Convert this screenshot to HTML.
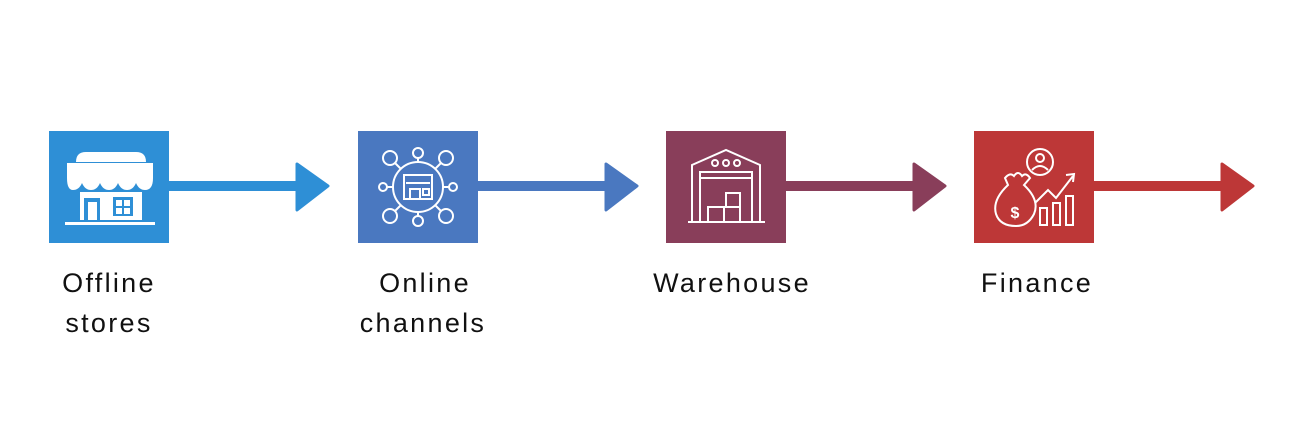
<!DOCTYPE html>
<html><head><style>
html,body{margin:0;padding:0;background:#fff;}
svg{display:block;}
text{font-family:"Liberation Sans",sans-serif;font-size:27px;fill:#111;text-anchor:middle;letter-spacing:2.3px;}
</style></head><body>
<svg width="1290" height="430" viewBox="0 0 1290 430">
<g id="a1">
<rect x="49" y="131" width="120" height="112" fill="#2e8fd6"/>
<rect x="165" y="181" width="138" height="10" fill="#2e8fd6"/>
<path d="M297 164 L328 186 L297 210 Z" fill="#2e8fd6" stroke="#2e8fd6" stroke-width="3" stroke-linejoin="round"/>
<g fill="#fff">
<path d="M76 162 Q76 152 86 152 H136 Q146 152 146 162 Z"/>
<path d="M67 163 H153 V178 Q153 190 145 190 Q139 190 136 183 Q133 190 127 190 Q121 190 118 183 Q115 190 109 190 Q103 190 100 183 Q97 190 91 190 Q85 190 82 183 Q79 190 73 190 Q67 190 67 178 Z"/>
<rect x="80" y="192" width="62" height="28"/>
<rect x="65" y="222" width="90" height="3"/>
</g>
<rect x="84" y="198" width="16" height="22" fill="#2e8fd6"/>
<rect x="88" y="202" width="9" height="18" fill="#fff"/>
<rect x="113" y="197" width="20" height="19" fill="#2e8fd6"/>
<rect x="116" y="200" width="6" height="6" fill="#fff"/><rect x="124" y="200" width="6" height="6" fill="#fff"/>
<rect x="116" y="208" width="6" height="6" fill="#fff"/><rect x="124" y="208" width="6" height="6" fill="#fff"/>
</g>
<g>
<rect x="358" y="131" width="120" height="112" fill="#4a78c0"/>
<rect x="474" y="181" width="138" height="10" fill="#4a78c0"/>
<path d="M606 164 L637 186 L606 210 Z" fill="#4a78c0" stroke="#4a78c0" stroke-width="3" stroke-linejoin="round"/>
<g fill="none" stroke="#fff" stroke-width="2">
<circle cx="418" cy="187" r="25"/>
<circle cx="390" cy="158" r="7"/><circle cx="418" cy="153" r="5"/><circle cx="446" cy="158" r="7"/>
<circle cx="383" cy="187" r="4"/><circle cx="453" cy="187" r="4"/>
<circle cx="390" cy="216" r="7"/><circle cx="418" cy="221" r="5"/><circle cx="446" cy="216" r="7"/>
<path d="M395 163 L401 169 M418 158 V162 M441 163 L435 169 M387 187 H393 M443 187 H449 M395 211 L401 205 M418 216 V212 M441 211 L435 205"/>
<rect x="404" y="175" width="28" height="24"/>
<path d="M406 183 H430 M410 199 V189 H420 V199 M423 189 H429 V195 H423 Z"/>
</g>
</g>
<g>
<rect x="666" y="131" width="120" height="112" fill="#893e5a"/>
<rect x="782" y="181" width="138" height="10" fill="#893e5a"/>
<path d="M914 164 L945 186 L914 210 Z" fill="#893e5a" stroke="#893e5a" stroke-width="3" stroke-linejoin="round"/>
<g fill="none" stroke="#fff" stroke-width="2">
<path d="M692 222 V165 L726 150 L760 165 V222 M688 222 H765"/>
<circle cx="715" cy="163" r="3"/><circle cx="726" cy="163" r="3"/><circle cx="737" cy="163" r="3"/>
<rect x="700" y="172" width="52" height="6"/>
<path d="M700 178 V222 M752 178 V222"/>
<rect x="708" y="207" width="16" height="15"/><rect x="724" y="207" width="16" height="15"/><rect x="726" y="193" width="14" height="14"/>
</g>
</g>
<g>
<rect x="974" y="131" width="120" height="112" fill="#bd3737"/>
<rect x="1090" y="181" width="138" height="10" fill="#bd3737"/>
<path d="M1222 164 L1253 186 L1222 210 Z" fill="#bd3737" stroke="#bd3737" stroke-width="3" stroke-linejoin="round"/>
<g fill="none" stroke="#fff" stroke-width="2">
<circle cx="1040" cy="162" r="13"/><circle cx="1040" cy="158" r="4"/><path d="M1032 170 Q1040 162 1048 170"/>
<path d="M1005 178 Q1010 172 1014 176 Q1018 170 1022 176 Q1026 172 1030 178 L1024 185 Q1040 200 1034 214 Q1028 226 1016 226 Q1000 226 996 214 Q992 200 1008 185 Z"/>
<text x="1015" y="218" style="font-size:16px;fill:#fff;stroke:none;font-weight:bold;letter-spacing:0">$</text>
<path d="M1035 203 L1048 190 L1056 198 L1073 176 M1066 175 L1074 174 L1073 182"/>
<rect x="1040" y="208" width="7" height="17"/><rect x="1053" y="203" width="7" height="22"/><rect x="1066" y="196" width="7" height="29"/>
</g>
</g>
<text x="109" y="292">Offline</text>
<text x="109" y="332">stores</text>
<text x="425" y="292">Online</text>
<text x="423" y="332">channels</text>
<text x="732" y="292">Warehouse</text>
<text x="1037" y="292">Finance</text>
</svg>
</body></html>
